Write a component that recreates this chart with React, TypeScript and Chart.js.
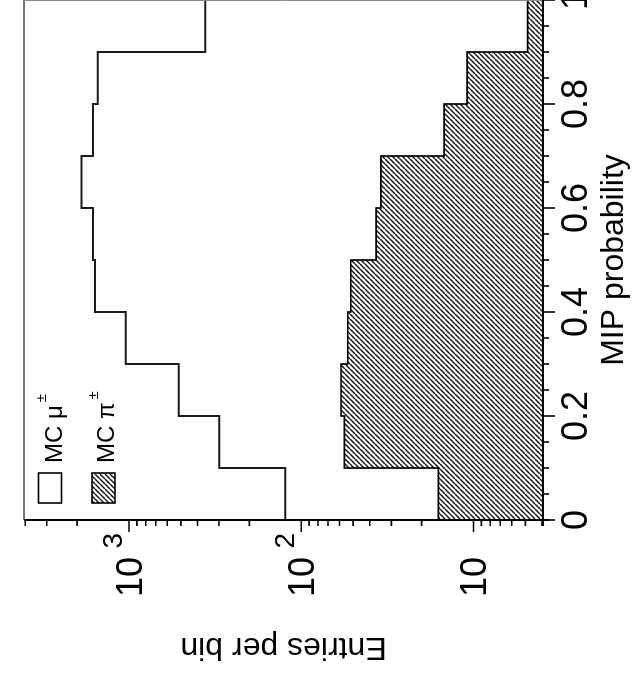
import React, { useEffect, useRef } from 'react';
import { Chart, registerables } from 'chart.js';

Chart.register(...registerables);

// ---- data ----
const binLow = [0, 0.1, 0.2, 0.3, 0.4, 0.5, 0.6, 0.7, 0.8, 0.9];
const binHigh = 1.0;
const muCounts = [124, 299, 515, 1046, 1578, 1618, 1888, 1618, 1520, 361];
const piCounts = [16.0, 56.2, 58.8, 53.7, 51.6, 36.8, 34.5, 14.8, 10.9, 4.85];

const xMajorTicks = [0, 0.2, 0.4, 0.6, 0.8, 1];
const xTickLabels = ['0', '0.2', '0.4', '0.6', '0.8', '1'];
const xMinorStep = 0.05;
const yMajorTicks = [10, 100, 1000];
const yTickBase = ['10', '10', '10'];
const yTickExp = ['', '2', '3'];
const legendLabels = ['MC \u03bc', 'MC \u03c0'];
const legendSup = ['\u00b1', '\u00b1'];
const xTitle = 'MIP probability';
const yTitle = 'Entries per bin';
const yMin = 3.95;
const yMax = 4070;

const FONT = '"Liberation Sans", Arial, Helvetica, sans-serif';
const CW = 720;
const CH = 633;

function histPoints(vals: number[]) {
  const pts = binLow.map((x, i) => ({ x, y: vals[i] }));
  pts.push({ x: binHigh, y: vals[vals.length - 1] });
  return pts;
}

function makeHatch(): CanvasPattern | string {
  const p = 5;
  const c = document.createElement('canvas');
  c.width = p;
  c.height = p;
  const g = c.getContext('2d');
  if (!g) return '#888';
  g.fillStyle = '#fff';
  g.fillRect(0, 0, p, p);
  g.strokeStyle = '#111';
  g.lineWidth = 1.4;
  for (let k = -1; k <= 1; k++) {
    g.beginPath();
    g.moveTo(k * p, p);
    g.lineTo(k * p + p, 0);
    g.stroke();
  }
  const pat = g.createPattern(c, 'repeat');
  return pat || '#888';
}

export default function App() {
  const ref = useRef<HTMLCanvasElement>(null);

  useEffect(() => {
    const canvas = ref.current;
    if (!canvas) return;
    const hatch = makeHatch();

    const axesPlugin = {
      id: 'rootAxes',
      afterDraw(chart: any) {
        const { ctx, chartArea: a } = chart;
        const xs = chart.scales.x;
        const ys = chart.scales.y;
        ctx.save();
        // frame (top and right)
        ctx.strokeStyle = '#444';
        ctx.lineWidth = 1.3;
        ctx.beginPath();
        ctx.moveTo(a.left, a.top);
        ctx.lineTo(a.right, a.top);
        ctx.stroke();
        ctx.strokeStyle = '#888';
        ctx.lineWidth = 1;
        ctx.beginPath();
        ctx.moveTo(a.right - 0.5, a.top);
        ctx.lineTo(a.right - 0.5, a.bottom);
        ctx.stroke();

        // axis lines
        ctx.strokeStyle = '#000';
        ctx.lineWidth = 2;
        ctx.beginPath();
        ctx.moveTo(a.left - 6, a.bottom);
        ctx.lineTo(a.right, a.bottom);
        ctx.moveTo(a.left, a.top);
        ctx.lineTo(a.left, a.bottom + 6);
        ctx.stroke();

        // x ticks
        ctx.lineWidth = 1.6;
        const nMinor = Math.round(1 / xMinorStep);
        ctx.beginPath();
        for (let k = 0; k <= nMinor; k++) {
          const v = k * xMinorStep;
          const px = xs.getPixelForValue(v);
          const isMajor = xMajorTicks.some((t) => Math.abs(t - v) < 1e-6);
          ctx.moveTo(px, a.bottom);
          ctx.lineTo(px, a.bottom + (isMajor ? 12 : 6));
        }
        // y ticks (log)
        for (let d = 1; d <= 1000; d *= 10) {
          for (let m = 1; m <= 9; m++) {
            const v = m * d;
            if (v < yMin || v > yMax) continue;
            const py = ys.getPixelForValue(v);
            ctx.moveTo(a.left, py);
            ctx.lineTo(a.left - (m === 1 ? 12 : 6), py);
          }
        }
        ctx.stroke();

        // x tick labels
        ctx.fillStyle = '#000';
        ctx.font = `36px ${FONT}`;
        ctx.textAlign = 'center';
        ctx.textBaseline = 'alphabetic';
        xMajorTicks.forEach((v, i) => {
          ctx.fillText(xTickLabels[i], xs.getPixelForValue(v), a.bottom + 43.5);
        });

        // y tick labels
        yMajorTicks.forEach((v, i) => {
          const py = ys.getPixelForValue(v);
          ctx.font = `36px ${FONT}`;
          ctx.textAlign = 'right';
          ctx.fillText(yTickBase[i], 122, py + 12.5);
          if (yTickExp[i]) {
            ctx.font = `28px ${FONT}`;
            ctx.textAlign = 'left';
            ctx.fillText(yTickExp[i], 130.5, py - 7);
          }
        });

        // axis titles
        ctx.font = `32px ${FONT}`;
        ctx.textAlign = 'center';
        ctx.fillText(xTitle, (a.left + a.right) / 2, 623);
        ctx.save();
        ctx.translate(41, (a.top + a.bottom) / 2);
        ctx.rotate(-Math.PI / 2);
        ctx.fillText(yTitle, 0, 0);
        ctx.restore();

        // legend
        const fills = ['#fff', hatch];
        const boxY = [38.5, 92];
        const baseY = [62, 114];
        legendLabels.forEach((lab, i) => {
          ctx.fillStyle = fills[i] as any;
          ctx.fillRect(176, boxY[i], 30, 23);
          ctx.strokeStyle = '#000';
          ctx.lineWidth = 1.6;
          ctx.strokeRect(176, boxY[i], 30, 23);
          ctx.fillStyle = '#000';
          ctx.font = `24px ${FONT}`;
          ctx.textAlign = 'left';
          ctx.fillText(lab, 216, baseY[i]);
          const w = ctx.measureText(lab).width;
          ctx.font = `15px ${FONT}`;
          ctx.fillText(legendSup[i], 216 + w + 3, baseY[i] - 16);
        });
        ctx.restore();
      },
    };

    const chart = new Chart(canvas, {
      type: 'line',
      data: {
        datasets: [
          {
            label: 'MC pi',
            data: histPoints(piCounts),
            stepped: true,
            borderColor: '#000',
            borderWidth: 1.7,
            backgroundColor: hatch as any,
            fill: 'start',
            pointRadius: 0,
          },
          {
            label: 'MC mu',
            data: histPoints(muCounts),
            stepped: true,
            borderColor: '#1a1a1a',
            borderWidth: 2,
            fill: false,
            pointRadius: 0,
          },
        ],
      },
      options: {
        animation: false,
        responsive: false,
        devicePixelRatio: 1,
        layout: { padding: { left: 159, right: CW - 679, top: 24, bottom: CH - 543 } },
        plugins: { legend: { display: false }, tooltip: { enabled: false } },
        scales: {
          x: { type: 'linear', min: 0, max: 1, display: false },
          y: { type: 'logarithmic', min: yMin, max: yMax, display: false },
        },
      },
      plugins: [axesPlugin],
    } as any);
    return () => chart.destroy();
  }, []);

  return (
    <div
      style={{
        position: 'fixed',
        left: 0,
        top: 0,
        width: 633,
        height: 679,
        overflow: 'hidden',
        background: '#fff',
      }}
    >
      <div
        style={{
          position: 'absolute',
          left: 0,
          top: 0,
          width: CW,
          height: CH,
          transformOrigin: '0 0',
          transform: 'translate(0px, 679px) rotate(-90deg)',
        }}
      >
        <canvas ref={ref} width={CW} height={CH} style={{ width: CW, height: CH, display: 'block' }} />
      </div>
    </div>
  );
}
